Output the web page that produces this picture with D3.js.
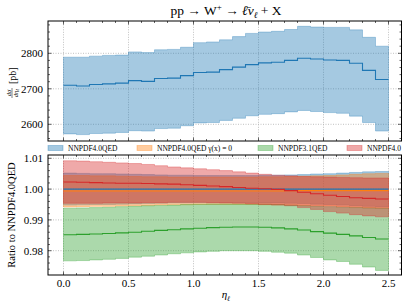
<!DOCTYPE html>
<html><head><meta charset="utf-8">
<script src="https://cdn.jsdelivr.net/npm/d3@7"></script>
<style>body{margin:0;background:#fff} text{font-family:"Liberation Serif","Times New Roman",serif;fill:#000}</style>
</head><body><svg id="c" width="407" height="305"></svg>
<script>
// ---------- data ----------
const binEdges = [0,0.1,0.2,0.3,0.4,0.5,0.6,0.7,0.8,0.9,1.0,1.1,1.2,1.3,1.4,1.5,1.6,1.7,1.8,1.9,2.0,2.1,2.2,2.3,2.4,2.5];
const xTicks = [0,0.5,1.0,1.5,2.0,2.5];
const topTicks = [2600,2700,2800];
const ratioTicks = [0.98,0.99,1.00,1.01];
const seriesNames = ["NNPDF4.0QED","NNPDF4.0QED \u03b3(x) = 0","NNPDF3.1QED","NNPDF4.0"];
const seriesColors = ["#1f77b4","#ff7f0e","#2ca02c","#d62728"];

const xsecCentral = [2710,2708,2712,2714,2716,2723,2721,2729,2730,2737,2746,2747,2754,2761,2768,2773,2775,2780,2786,2784,2781,2780,2772,2752,2726];
const xsecUpper   = [2789,2789,2792,2794,2795,2804,2802,2810,2811,2817,2830,2832,2838,2847,2856,2860,2862,2867,2876,2874,2873,2873,2866,2845,2820];
const xsecLower   = [2573,2571,2574,2575,2577,2582,2581,2588,2589,2596,2604,2605,2611,2617,2624,2628,2630,2635,2639,2636,2633,2631,2623,2605,2581];

const qedCentral  = [1,1,1,1,1,1,1,1,1,1,1,1,1,1,1,1,1,1,1,1,1,1,1,1,1];
const qedUpper    = [1.0052,1.0051,1.0050,1.0050,1.0049,1.0048,1.0047,1.0046,1.0045,1.0045,1.0044,1.0044,1.0044,1.0044,1.0044,1.0045,1.0045,1.0046,1.0047,1.0049,1.0050,1.0052,1.0054,1.0056,1.0057];
const qedLower    = [0.9948,0.9949,0.9950,0.9950,0.9951,0.9952,0.9953,0.9954,0.9955,0.9955,0.9956,0.9956,0.9956,0.9956,0.9956,0.9955,0.9955,0.9954,0.9953,0.9951,0.9950,0.9948,0.9946,0.9944,0.9943];

const noPhCentral = [0.9994,0.9994,0.9994,0.9994,0.9994,0.9994,0.9994,0.9994,0.9994,0.9994,0.9994,0.9994,0.9994,0.9994,0.9994,0.9994,0.9994,0.9995,0.9995,0.9995,0.9995,0.9995,0.9995,0.9995,0.9995];
const noPhUpper   = [1.0044,1.0044,1.0043,1.0043,1.0042,1.0041,1.0040,1.0040,1.0039,1.0039,1.0039,1.0039,1.0039,1.0039,1.0039,1.0040,1.0040,1.0041,1.0042,1.0043,1.0044,1.0046,1.0048,1.0050,1.0051];
const noPhLower   = [0.9942,0.9943,0.9944,0.9944,0.9945,0.9946,0.9947,0.9948,0.9949,0.9949,0.9950,0.9950,0.9950,0.9950,0.9950,0.9949,0.9949,0.9948,0.9947,0.9946,0.9945,0.9943,0.9941,0.9939,0.9938];

const nn31Central = [0.9852,0.9853,0.9854,0.9856,0.9858,0.9860,0.9863,0.9866,0.9868,0.9871,0.9873,0.9875,0.9876,0.9877,0.9877,0.9876,0.9874,0.9871,0.9867,0.9862,0.9857,0.9853,0.9848,0.9843,0.9838];
const nn31Upper   = [0.9938,0.9939,0.9940,0.9941,0.9943,0.9944,0.9946,0.9947,0.9948,0.9950,0.9951,0.9952,0.9952,0.9952,0.9952,0.9951,0.9950,0.9948,0.9946,0.9944,0.9943,0.9941,0.9940,0.9939,0.9938];
const nn31Lower   = [0.9767,0.9768,0.9770,0.9772,0.9775,0.9779,0.9782,0.9786,0.9790,0.9793,0.9796,0.9798,0.9800,0.9800,0.9800,0.9798,0.9795,0.9792,0.9786,0.9778,0.9770,0.9765,0.9756,0.9747,0.9736];

const nn40Central = [1.0023,1.0022,1.0021,1.0020,1.0019,1.0019,1.0018,1.0017,1.0016,1.0014,1.0012,1.0010,1.0008,1.0005,1.0003,1.0001,0.9999,0.9995,0.9990,0.9985,0.9980,0.9976,0.9972,0.9970,0.9968];
const nn40Upper   = [1.0092,1.0091,1.0089,1.0087,1.0085,1.0083,1.0080,1.0076,1.0072,1.0069,1.0066,1.0063,1.0060,1.0056,1.0052,1.0048,1.0045,1.0043,1.0041,1.0040,1.0039,1.0038,1.0037,1.0036,1.0036];
const nn40Lower   = [0.9954,0.9954,0.9954,0.9955,0.9955,0.9955,0.9956,0.9956,0.9957,0.9957,0.9957,0.9956,0.9955,0.9954,0.9952,0.9950,0.9948,0.9946,0.9940,0.9934,0.9927,0.9922,0.9917,0.9913,0.9910];

// ---------- layout ----------
const svg = d3.select("#c");
const L = 48, R = 401.5;
const T1 = 21, B1 = 141, T2 = 155, B2 = 275;
const x = d3.scaleLinear().domain([0, 2.5]).range([63.5, 388.5]);
const yTop = d3.scaleLinear().domain([2600, 2800]).range([124.3, 53.3]);
const yBot = d3.scaleLinear().domain([0.98, 1.01]).range([250.7, 158.3]);

const defs = svg.append("defs");
defs.append("clipPath").attr("id","cp1").append("rect").attr("x",L).attr("y",T1).attr("width",R-L).attr("height",B1-T1);
defs.append("clipPath").attr("id","cp2").append("rect").attr("x",L).attr("y",T2).attr("width",R-L).attr("height",B2-T2);

function pts(vals){ const p = vals.map((v,i)=>({x:binEdges[i], v})); p.push({x:binEdges[25], v:vals[24]}); return p; }
function bandPts(lo,hi){ const p = lo.map((v,i)=>({x:binEdges[i], lo:v, hi:hi[i]})); p.push({x:binEdges[25], lo:lo[24], hi:hi[24]}); return p; }

function grid(g, y, yt){
  g.selectAll(".gx").data(xTicks).enter().append("line")
    .attr("x1",d=>x(d)).attr("x2",d=>x(d)).attr("y1",y.range()[0]-500).attr("y2",y.range()[0]+500)
    .attr("stroke","#b0b0b0").attr("stroke-width",0.8).attr("stroke-dasharray","1,1.5");
  g.selectAll(".gy").data(yt).enter().append("line")
    .attr("x1",L).attr("x2",R).attr("y1",d=>y(d)).attr("y2",d=>y(d))
    .attr("stroke","#b0b0b0").attr("stroke-width",0.8).attr("stroke-dasharray","1,1.5");
}
function drawBand(g, y, lo, hi, color){
  const area = d3.area().curve(d3.curveStepAfter).x(d=>x(d.x)).y0(d=>y(d.lo)).y1(d=>y(d.hi));
  g.append("path").datum(bandPts(lo,hi)).attr("d",area)
    .attr("fill",color).attr("fill-opacity",0.4).attr("stroke",color).attr("stroke-opacity",0.4).attr("stroke-width",0.8);
}
function drawLine(g, y, vals, color){
  const line = d3.line().curve(d3.curveStepAfter).x(d=>x(d.x)).y(d=>y(d.v));
  g.append("path").datum(pts(vals)).attr("d",line).attr("fill","none").attr("stroke",color).attr("stroke-width",1.1);
}
function frameTicks(y, top, bot, yMajor, yMinor){
  const g = svg.append("g");
  const xMinor = d3.range(0, 26).map(i=>i/10).filter(v=>!xTicks.some(t=>Math.abs(t-v)<1e-6));
  const tk = (x1,y1,x2,y2)=>g.append("line").attr("x1",x1).attr("y1",y1).attr("x2",x2).attr("y2",y2).attr("stroke","#000").attr("stroke-width",0.6);
  xTicks.forEach(v=>{ tk(x(v),bot,x(v),bot-3.5); tk(x(v),top,x(v),top+3.5); });
  xMinor.forEach(v=>{ tk(x(v),bot,x(v),bot-2); tk(x(v),top,x(v),top+2); });
  yMajor.forEach(v=>{ tk(L,y(v),L+3.5,y(v)); tk(R,y(v),R-3.5,y(v)); });
  yMinor.forEach(v=>{ const p=y(v); if(p>top+0.5 && p<bot-0.5){ tk(L,p,L+2,p); tk(R,p,R-2,p);} });
  g.append("rect").attr("x",L).attr("y",top).attr("width",R-L).attr("height",bot-top)
    .attr("fill","none").attr("stroke","#000").attr("stroke-width",1);
}

// ---------- top panel ----------
const g1 = svg.append("g").attr("clip-path","url(#cp1)");
grid(g1, yTop, topTicks);
drawBand(g1, yTop, xsecLower, xsecUpper, seriesColors[0]);
drawLine(g1, yTop, xsecCentral, seriesColors[0]);
frameTicks(yTop, T1, B1, topTicks, d3.range(2540, 2900, 20).filter(v=>v%100!==0));

svg.selectAll(".tyl").data(topTicks).enter().append("text")
  .attr("x",L-5).attr("y",d=>yTop(d)).attr("dy","0.35em").attr("text-anchor","end")
  .attr("font-size",11).text(d=>d);

// ---------- bottom panel ----------
const g2 = svg.append("g").attr("clip-path","url(#cp2)");
grid(g2, yBot, ratioTicks);
drawBand(g2, yBot, qedLower, qedUpper, seriesColors[0]);
drawBand(g2, yBot, noPhLower, noPhUpper, seriesColors[1]);
drawBand(g2, yBot, nn31Lower, nn31Upper, seriesColors[2]);
drawBand(g2, yBot, nn40Lower, nn40Upper, seriesColors[3]);
drawLine(g2, yBot, qedCentral, seriesColors[0]);
drawLine(g2, yBot, noPhCentral, seriesColors[1]);
drawLine(g2, yBot, nn31Central, seriesColors[2]);
drawLine(g2, yBot, nn40Central, seriesColors[3]);
frameTicks(yBot, T2, B2, ratioTicks, d3.range(0, 20).map(i=>+(0.970+i*0.002).toFixed(3)).filter(v=>!ratioTicks.some(t=>Math.abs(t-v)<1e-6)));

svg.selectAll(".byl").data(ratioTicks).enter().append("text")
  .attr("x",L-5).attr("y",d=>yBot(d)).attr("dy","0.35em").attr("text-anchor","end")
  .attr("font-size",11).text(d=>d.toFixed(2));
svg.selectAll(".bxl").data(xTicks).enter().append("text")
  .attr("x",d=>x(d)).attr("y",B2+12).attr("text-anchor","middle")
  .attr("font-size",11).text(d=>d.toFixed(1));

// ---------- labels ----------
const title = svg.append("text").attr("x",226).attr("y",15).attr("text-anchor","middle").attr("font-size",13.5);
title.append("tspan").text("pp \u2192 W");
title.append("tspan").attr("dy",-5).attr("font-size",9).text("+");
title.append("tspan").attr("dy",5).text(" \u2192 ");
title.append("tspan").attr("font-style","italic").text("\u2113\u0304\u03bd");
title.append("tspan").attr("dy",3).attr("font-size",9).attr("font-style","italic").text("\u2113");
title.append("tspan").attr("dy",-3).text(" + X");

// top y label (fraction + [pb])
const yl = svg.append("g").attr("transform","translate(12,81) rotate(-90)");
yl.append("text").attr("x",-12).attr("y",-1.5).attr("text-anchor","middle").attr("font-size",6.5).attr("font-style","italic").text("d\u03c3");
const den = yl.append("text").attr("x",-12).attr("y",5.5).attr("text-anchor","middle").attr("font-size",6.5).attr("font-style","italic");
den.append("tspan").text("d\u03b7");
den.append("tspan").attr("font-size",4.5).attr("dy",1.5).text("\u2113");
yl.append("line").attr("x1",-17).attr("x2",-7).attr("y1",0).attr("y2",0).attr("stroke","#000").attr("stroke-width",0.5);
yl.append("text").attr("x",-3).attr("y",3.5).attr("text-anchor","start").attr("font-size",10).text("[pb]");

svg.append("text").attr("transform",`translate(15,${(T2+B2)/2}) rotate(-90)`)
  .attr("text-anchor","middle").attr("font-size",10.5).text("Ratio to NNPDF4.0QED");

const xl = svg.append("text").attr("x",226).attr("y",298).attr("text-anchor","middle").attr("font-size",11).attr("font-style","italic");
xl.append("tspan").text("\u03b7");
xl.append("tspan").attr("font-size",7).attr("dy",2.5).text("\u2113");

// ---------- legend ----------
const legX = [48, 137, 258, 347];
const leg = svg.selectAll(".leg").data(seriesNames).enter().append("g").attr("transform",(d,i)=>`translate(${legX[i]},148)`);
leg.append("rect").attr("x",0).attr("y",-2.5).attr("width",15).attr("height",5)
  .attr("fill",(d,i)=>seriesColors[i]).attr("fill-opacity",0.4).attr("stroke",(d,i)=>seriesColors[i]).attr("stroke-opacity",0.4).attr("stroke-width",0.8);
leg.append("text").attr("x",20).attr("y",0).attr("dy","0.35em").attr("font-size",7.5).text(d=>d);
</script></body></html>
